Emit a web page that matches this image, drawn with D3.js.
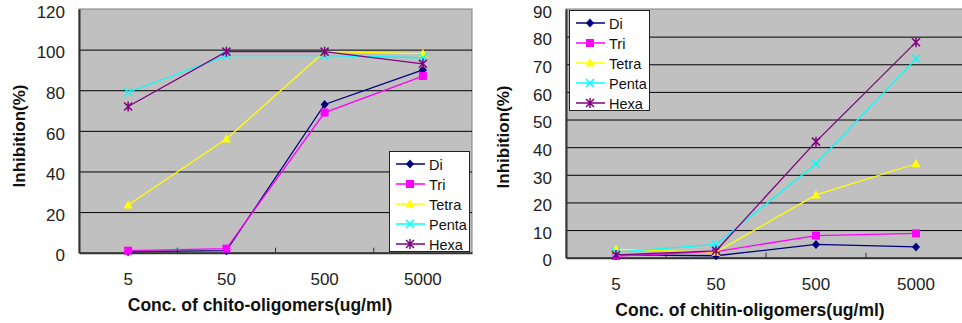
<!DOCTYPE html>
<html>
<head>
<meta charset="utf-8">
<script src="https://cdn.jsdelivr.net/npm/d3@7"></script>
<style>
  body { margin: 0; background: #fff; }
  svg { display: block; font-family: "Liberation Sans", Arial, sans-serif; }
</style>
</head>
<body>
<svg id="chart" width="962" height="323"></svg>
<script>
var categories = ["5", "50", "500", "5000"];
var seriesNames = ["Di", "Tri", "Tetra", "Penta", "Hexa"];

// chito-oligomers (left)
var chitoDi = [0.5, 1, 73, 90];
var chitoTri = [1, 2, 69, 87];
var chitoTetra = [23.5, 56, 99, 98];
var chitoPenta = [79, 97, 97, 96];
var chitoHexa = [72, 99, 99, 93];

// chitin-oligomers (right)
var chitinDi = [1, 0.7, 4.8, 3.9];
var chitinTri = [0.6, 2.2, 8, 8.8];
var chitinTetra = [3, 2, 22.7, 34];
var chitinPenta = [2, 4.8, 34, 72];
var chitinHexa = [1, 2.5, 42, 78];

var leftTicks = [0, 20, 40, 60, 80, 100, 120];
var rightTicks = [0, 10, 20, 30, 40, 50, 60, 70, 80, 90];

var colors = ["#000080", "#ff00ff", "#ffff00", "#00ffff", "#800080"];
var markers = ["diamond", "square", "triangle", "x", "star"];

var svg = d3.select("#chart");

function drawMarker(g, type, x, y, color) {
	if (type == "diamond") {
		g.append("path").attr("d", "M" + x + "," + (y - 4.5) + "L" + (x + 4) + "," + y + "L" + x + "," + (y + 4.5) + "L" + (x - 4) + "," + y + "Z")
			.attr("fill", color);
	} else if (type == "square") {
		g.append("rect").attr("x", x - 4).attr("y", y - 4).attr("width", 8).attr("height", 8).attr("fill", color);
	} else if (type == "triangle") {
		g.append("path").attr("d", "M" + x + "," + (y - 5) + "L" + (x + 4.5) + "," + (y + 3.5) + "L" + (x - 4.5) + "," + (y + 3.5) + "Z")
			.attr("fill", color);
	} else if (type == "x") {
		g.append("path").attr("d", "M" + (x - 4) + "," + (y - 4) + "L" + (x + 4) + "," + (y + 4) + "M" + (x + 4) + "," + (y - 4) + "L" + (x - 4) + "," + (y + 4))
			.attr("stroke", color).attr("stroke-width", 1.5);
	} else {
		g.append("path").attr("d", "M" + (x - 4) + "," + (y - 4) + "L" + (x + 4) + "," + (y + 4) + "M" + (x + 4) + "," + (y - 4) + "L" + (x - 4) + "," + (y + 4) + "M" + x + "," + (y - 5) + "L" + x + "," + (y + 5))
			.attr("stroke", color).attr("stroke-width", 1.5);
	}
}

function drawChart(cfg) {
	var g = svg.append("g");

	var x = d3.scaleBand().domain(categories).range([cfg.left, cfg.right]);
	var y = d3.scaleLinear().domain([0, cfg.max]).range([cfg.bottom, cfg.top]);

	// plot area
	g.append("rect")
		.attr("x", cfg.left).attr("y", cfg.top)
		.attr("width", cfg.right - cfg.left).attr("height", cfg.bottom - cfg.top)
		.attr("fill", "#c0c0c0").attr("stroke", "#808080").attr("stroke-width", 1);

	// gridlines
	g.selectAll(".grid").data(cfg.ticks.slice(1, -1)).enter()
		.append("line")
		.attr("x1", cfg.left).attr("x2", cfg.right)
		.attr("y1", function(d) { return y(d) + 0.5; })
		.attr("y2", function(d) { return y(d) + 0.5; })
		.attr("stroke", "#000").attr("stroke-width", 1);

	// axes
	var yAxis = d3.axisLeft(y).tickValues(cfg.ticks).tickSize(0).tickPadding(14);
	var ya = g.append("g").attr("transform", "translate(" + cfg.left + ",0)").call(yAxis);
	ya.select(".domain").attr("stroke", "#333").attr("stroke-width", 2);
	ya.selectAll("text").attr("font-size", 17).attr("fill", "#222").attr("dy", "0.72em")
		.attr("y", -4);

	var xAxis = d3.axisBottom(x).tickSize(0).tickPadding(20);
	var xa = g.append("g").attr("transform", "translate(0," + cfg.bottom + ")").call(xAxis);
	xa.select(".domain").attr("stroke", "#333").attr("stroke-width", 2);
	xa.selectAll("text").attr("font-size", 17).attr("fill", "#222");

	// tick marks between categories
	g.selectAll(".xtick").data(categories.slice(1)).enter()
		.append("line")
		.attr("x1", function(d) { return x(d); })
		.attr("x2", function(d) { return x(d); })
		.attr("y1", cfg.bottom - 5).attr("y2", cfg.bottom)
		.attr("stroke", "#333").attr("stroke-width", 1);

	// axis titles
	g.append("text")
		.attr("x", cfg.xTitleX).attr("y", cfg.xTitleY)
		.attr("text-anchor", "middle").attr("font-size", 17.5).attr("font-weight", "bold")
		.attr("fill", "#111")
		.text(cfg.xTitle);

	g.append("text")
		.attr("transform", "translate(" + cfg.yTitleX + "," + cfg.yTitleY + ")rotate(-90)")
		.attr("text-anchor", "middle").attr("font-size", 17).attr("font-weight", "bold")
		.attr("fill", "#111")
		.text("Inhibition(%)");

	// series
	var line = d3.line()
		.x(function(d, i) { return x(categories[i]) + x.bandwidth() / 2; })
		.y(function(d) { return y(d); });

	cfg.series.forEach(function(s, k) {
		g.append("path").datum(s)
			.attr("d", line)
			.attr("fill", "none").attr("stroke", colors[k]).attr("stroke-width", 1.3);
		s.forEach(function(v, i) {
			drawMarker(g, markers[k], x(categories[i]) + x.bandwidth() / 2, y(v), colors[k]);
		});
	});

	// legend
	var lg = g.append("g").attr("transform", "translate(" + cfg.legendX + "," + cfg.legendY + ")");
	lg.append("rect").attr("x", 0.5).attr("y", 0.5).attr("width", 80).attr("height", 100)
		.attr("fill", "#fff").attr("stroke", "#222").attr("stroke-width", 1);
	seriesNames.forEach(function(name, k) {
		var yy = 13 + k * 20;
		lg.append("line").attr("x1", 7).attr("x2", 36).attr("y1", yy).attr("y2", yy)
			.attr("stroke", colors[k]).attr("stroke-width", 1.5);
		drawMarker(lg, markers[k], 21, yy, colors[k]);
		lg.append("text").attr("x", 40).attr("y", yy + 5.5)
			.attr("font-size", 14.5).attr("fill", "#111").text(name);
	});
}

drawChart({
	left: 79, right: 472, top: 9, bottom: 252.7, max: 120,
	ticks: leftTicks,
	series: [chitoDi, chitoTri, chitoTetra, chitoPenta, chitoHexa],
	xTitle: "Conc. of chito-oligomers(ug/ml)", xTitleX: 260, xTitleY: 311,
	yTitleX: 25, yTitleY: 136,
	legendX: 389, legendY: 151
});

drawChart({
	left: 566, right: 966, top: 9, bottom: 257.7, max: 90,
	ticks: rightTicks,
	series: [chitinDi, chitinTri, chitinTetra, chitinPenta, chitinHexa],
	xTitle: "Conc. of chitin-oligomers(ug/ml)", xTitleX: 750, xTitleY: 316,
	yTitleX: 509, yTitleY: 137,
	legendX: 569, legendY: 10
});
</script>
</body>
</html>
